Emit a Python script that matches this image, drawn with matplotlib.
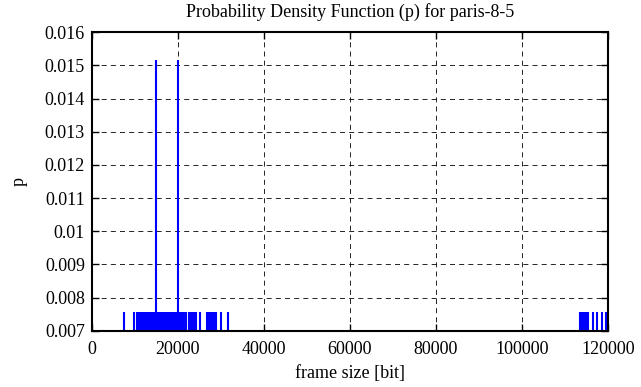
import matplotlib
matplotlib.use('Agg')
import matplotlib.pyplot as plt
import numpy as np
from matplotlib.ticker import FuncFormatter

# frame sizes [bit] seen in the trace, and how often each one occurs
sizes = [7440, 9770, 10540, 11000,
         11400, 11650, 11980, 12260, 12590, 12870, 13150, 13480, 13760,
         14050, 14330, 14820, 15080, 15390, 15660, 15950, 16270, 16540,
         16830, 17120, 17430, 17700, 18010, 18290, 18600, 18880, 19170,
         19460, 19750, 20070, 20340, 20620, 20930, 21210, 21520, 21800,
         22620, 22890, 23240, 23580, 23920, 24300, 25120,
         26760, 27050, 27380, 27910, 28230, 28510, 28770, 30000, 31630,
         113500, 113820, 114150, 114480, 114790, 115060, 115440, 116460,
         117530, 118700, 119560]
counts = [1, 1, 1, 1,
          1, 1, 1, 1, 1, 1, 1, 1, 1,
          1, 1, 2, 1, 1, 1, 1, 1, 1,
          1, 1, 1, 1, 1, 1, 1, 1, 1,
          1, 1, 2, 1, 1, 1, 1, 1, 1,
          1, 1, 1, 1, 1, 1, 1,
          1, 1, 1, 1, 1, 1, 1, 1, 1,
          1, 1, 1, 1, 1, 1, 1, 1,
          1, 1, 1]
n_frames = 132

xticks = [0, 20000, 40000, 60000, 80000, 100000, 120000]
yticks = [0.007, 0.008, 0.009, 0.010, 0.011, 0.012, 0.013, 0.014, 0.015, 0.016]

pdf = np.array(counts) / n_frames

plt.rcParams['font.family'] = 'Liberation Serif'
plt.rcParams['font.size'] = 13

fig = plt.figure(figsize=(6.41, 3.87), dpi=100)
ax = fig.add_axes([0.1435, 0.145, 0.805, 0.772])

ax.vlines(sizes, 0, pdf, colors='#0000ff', linewidth=1.5)

ax.set_xlim(0, 120000)
ax.set_ylim(0.007, 0.016)
ax.set_xticks(xticks)
ax.set_yticks(yticks)
ax.yaxis.set_major_formatter(FuncFormatter(lambda v, p: '%g' % round(v, 4)))
ax.xaxis.set_major_formatter(FuncFormatter(lambda v, p: '%d' % v))

ax.grid(True, color='black', linestyle=(0, (6, 5)), linewidth=0.6)
ax.tick_params(direction='in', top=True, right=True, length=5, width=1)
ax.tick_params(axis='x', pad=7)
ax.tick_params(axis='y', pad=5)
for s in ax.spines.values():
    s.set_linewidth(1.5)

ax.set_title('Probability Density Function (p) for paris-8-5', fontsize=13, pad=11)
ax.set_xlabel('frame size [bit]', labelpad=5)
ax.set_ylabel('p', labelpad=12)

plt.savefig('out.png', dpi=100)
